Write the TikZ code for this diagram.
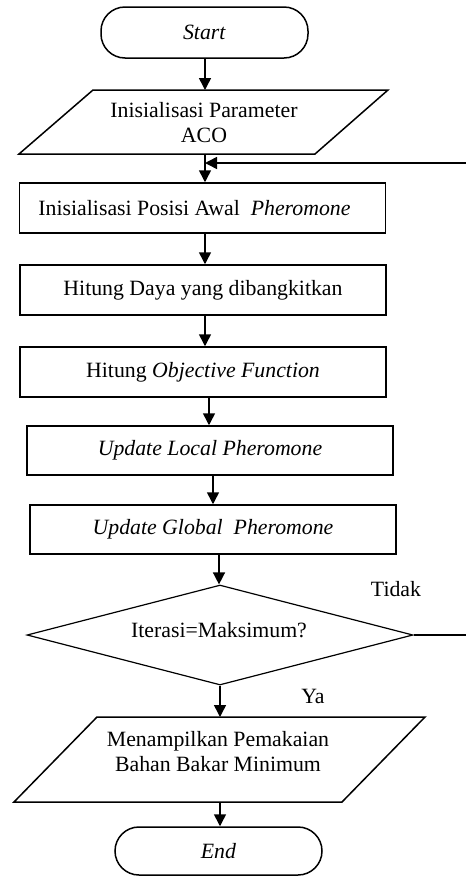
\documentclass[tikz,border=0pt]{standalone}
\usepackage{fontspec}
\setmainfont{Liberation Serif}
\usetikzlibrary{arrows.meta,shapes.geometric}
\tikzset{
  lw/.style={line width=1.5pt},
  fnt/.style={font=\fontsize{21.8}{25}\selectfont},
  flowbox/.style={draw, lw, fnt, minimum width=366pt, minimum height=50pt, inner sep=0pt},
  term/.style={draw, lw, fnt, rounded corners=24pt, minimum width=207pt, inner sep=0pt},
  txt/.style={fnt, align=center, inner sep=0pt},
  decision/.style={draw, diamond, line width=1.2pt, aspect=3.86, minimum width=386pt, minimum height=100pt, inner sep=0pt},
  arr/.style={lw, -{Triangle[length=12pt,width=12pt]}},
}
\begin{document}
\begin{tikzpicture}[x=1pt,y=-1pt]
\useasboundingbox (0,0) rectangle (466,876);
\clip (0,0) rectangle (466,876);
% terminals
\node[term, minimum height=51pt] (start) at (204.5,32.5) {\textit{Start}};
\node[term, minimum height=48pt] (end) at (218.5,851) {\textit{End}};
% input parallelogram 1
\draw[lw] (93,90) -- (388,90) -- (315,154) -- (19,154) -- cycle;
\node[txt] (p1) at (204,123) {Inisialisasi Parameter\\ACO};
\coordinate (p1n) at (205,90);
\coordinate (p1s) at (205,154);
% process boxes
\node[flowbox] (b1) at (202.5,208) {Inisialisasi Posisi Awal \ \textit{Pheromone}\hspace*{16pt}};
\node[flowbox] (b2) at (203,290) {Hitung Daya yang dibangkitkan};
\node[flowbox] (b3) at (203,372) {Hitung \textit{Objective Function}};
\node[flowbox, minimum height=49pt] (b4) at (210,450.5) {\textit{Update Local Pheromone}};
\node[flowbox, minimum height=49pt] (b5) at (213,529.5) {\textit{Update Global \ Pheromone}};
% decision
\node[decision] (dec) at (220,635) {};
\node[txt] (dectxt) at (219,630) {Iterasi=Maksimum?};
\node[txt] (tidak) at (396,589) {Tidak};
\node[txt] (ya) at (313,696) {Ya};
% output parallelogram 2
\draw[lw] (97,717) -- (425,717) -- (342,802) -- (14,802) -- cycle;
\node[txt] (p2) at (218,752) {Menampilkan Pemakaian\\Bahan Bakar Minimum};
\coordinate (p2n) at (220,717);
\coordinate (p2s) at (220,802);
% connectors
\draw[arr] (start.south -| p1n) -- (p1n);
\draw[arr] (p1s) -- (p1s |- b1.north);
\draw[arr] (b1.south -| p1s) -- (p1s |- b2.north);
\draw[arr] (b2.south -| p1s) -- (p1s |- b3.north);
\draw[arr] ([xshift=6pt]b3.south) -- ([xshift=6pt]b3.south |- b4.north);
\draw[arr] ([xshift=3pt]b4.south) -- (b5.north);
\draw[arr] ([xshift=6pt]b5.south) -- ([xshift=6pt]b5.south |- dec.north);
\draw[arr] (dec.south) -- (p2n);
\draw[arr] (p2s) -- (p2s |- end.north);
% feedback loop (Tidak)
\coordinate (fb) at (205,163);
\draw[arr] (dec.east) -- (480,635) -- (480,163) -- (fb);
\end{tikzpicture}
\end{document}
